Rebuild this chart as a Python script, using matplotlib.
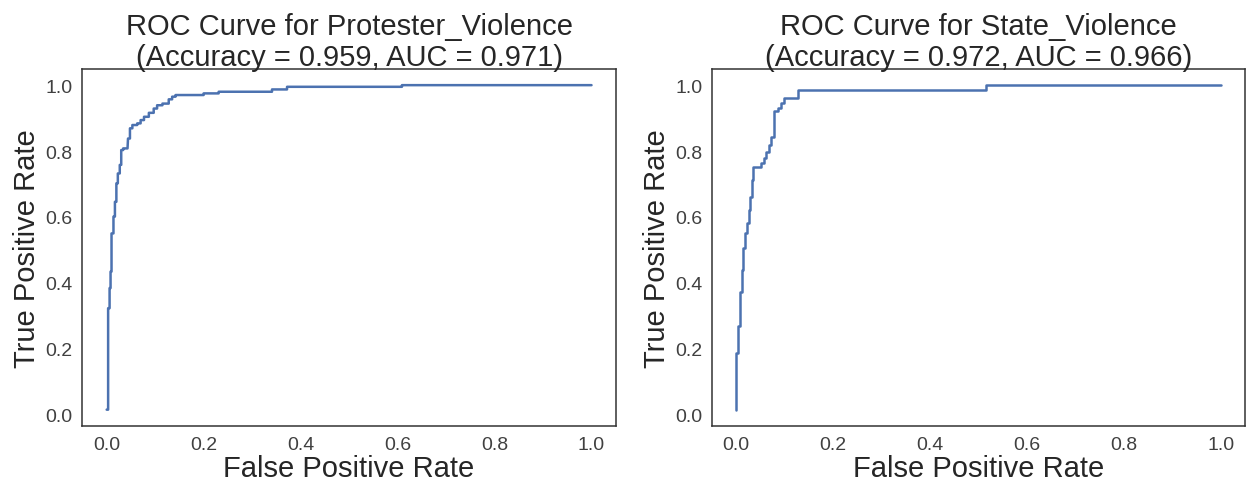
import matplotlib
matplotlib.use("Agg")
import matplotlib.pyplot as plt
import seaborn as sns

sns.set_style("white")
plt.rcParams["font.family"] = ["Liberation Sans", "DejaVu Sans"]

# ROC points
prot_fpr = [0.0, 0.003, 0.003, 0.006, 0.006, 0.008, 0.008, 0.010, 0.010, 0.014, 0.014,
            0.017, 0.017, 0.020, 0.020, 0.023, 0.023, 0.027, 0.027, 0.030, 0.030,
            0.034, 0.034, 0.043, 0.044, 0.048, 0.048, 0.053, 0.053, 0.063, 0.063,
            0.070, 0.070, 0.077, 0.077, 0.087, 0.087, 0.097, 0.097, 0.104, 0.104,
            0.115, 0.115, 0.128, 0.128, 0.135, 0.135, 0.142, 0.142, 0.20, 0.20,
            0.231, 0.231, 0.341, 0.341, 0.372, 0.372, 0.609, 0.609, 1.0]
prot_tpr = [0.015, 0.015, 0.323, 0.323, 0.384, 0.384, 0.434, 0.434, 0.550, 0.550, 0.601,
            0.601, 0.646, 0.646, 0.702, 0.702, 0.732, 0.732, 0.758, 0.758, 0.803,
            0.803, 0.808, 0.808, 0.838, 0.838, 0.869, 0.869, 0.879, 0.879, 0.884,
            0.884, 0.894, 0.894, 0.904, 0.904, 0.916, 0.916, 0.929, 0.929, 0.939,
            0.939, 0.944, 0.944, 0.957, 0.957, 0.965, 0.965, 0.970, 0.970, 0.975,
            0.975, 0.980, 0.980, 0.987, 0.987, 0.995, 0.995, 1.0, 1.0]

state_fpr = [0.0, 0.0, 0.003, 0.003, 0.008, 0.008, 0.012, 0.012, 0.015, 0.015, 0.019,
             0.019, 0.022, 0.022, 0.026, 0.026, 0.029, 0.029, 0.033, 0.033, 0.035,
             0.035, 0.051, 0.051, 0.057, 0.057, 0.062, 0.062, 0.067, 0.067, 0.071,
             0.071, 0.078, 0.078, 0.079, 0.079, 0.086, 0.086, 0.092, 0.092, 0.098,
             0.098, 0.128, 0.128, 0.515, 0.515, 1.0]
state_tpr = [0.015, 0.188, 0.188, 0.269, 0.269, 0.373, 0.373, 0.439, 0.439, 0.505, 0.505,
             0.550, 0.550, 0.581, 0.581, 0.621, 0.621, 0.662, 0.662, 0.712, 0.712,
             0.753, 0.753, 0.763, 0.763, 0.778, 0.778, 0.798, 0.798, 0.818, 0.818,
             0.843, 0.843, 0.884, 0.884, 0.922, 0.922, 0.932, 0.932, 0.947, 0.947,
             0.962, 0.962, 0.985, 0.985, 1.0, 1.0]

panels = [
    ("Protester_Violence", 0.959, 0.971, prot_fpr, prot_tpr),
    ("State_Violence", 0.972, 0.966, state_fpr, state_tpr),
]

fig = plt.figure(figsize=(12.49, 4.89), dpi=100)
lefts = [0.066, 0.570]

for left, (name, acc, auc, fpr, tpr) in zip(lefts, panels):
    ax = fig.add_axes([left, 0.127, 0.427, 0.730])
    ax.plot(fpr, tpr, color="#4C72B0", lw=1.8)
    ax.set_title(f"ROC Curve for {name}\n(Accuracy = {acc:.3f}, AUC = {auc:.3f})",
                 fontsize=21, color="#262626", linespacing=1.12, pad=3)
    ax.set_xlabel("False Positive Rate", fontsize=21, color="#262626", labelpad=1)
    ax.set_ylabel("True Positive Rate", fontsize=21, color="#262626", labelpad=3)
    ax.tick_params(labelsize=14, colors="#404040", length=0, pad=7)
    ax.set_xticks([0.0, 0.2, 0.4, 0.6, 0.8, 1.0])
    ax.set_yticks([0.0, 0.2, 0.4, 0.6, 0.8, 1.0])
    for sp in ax.spines.values():
        sp.set_color("#333333")
        sp.set_linewidth(1.1)

fig.savefig("out.png", dpi=100)
